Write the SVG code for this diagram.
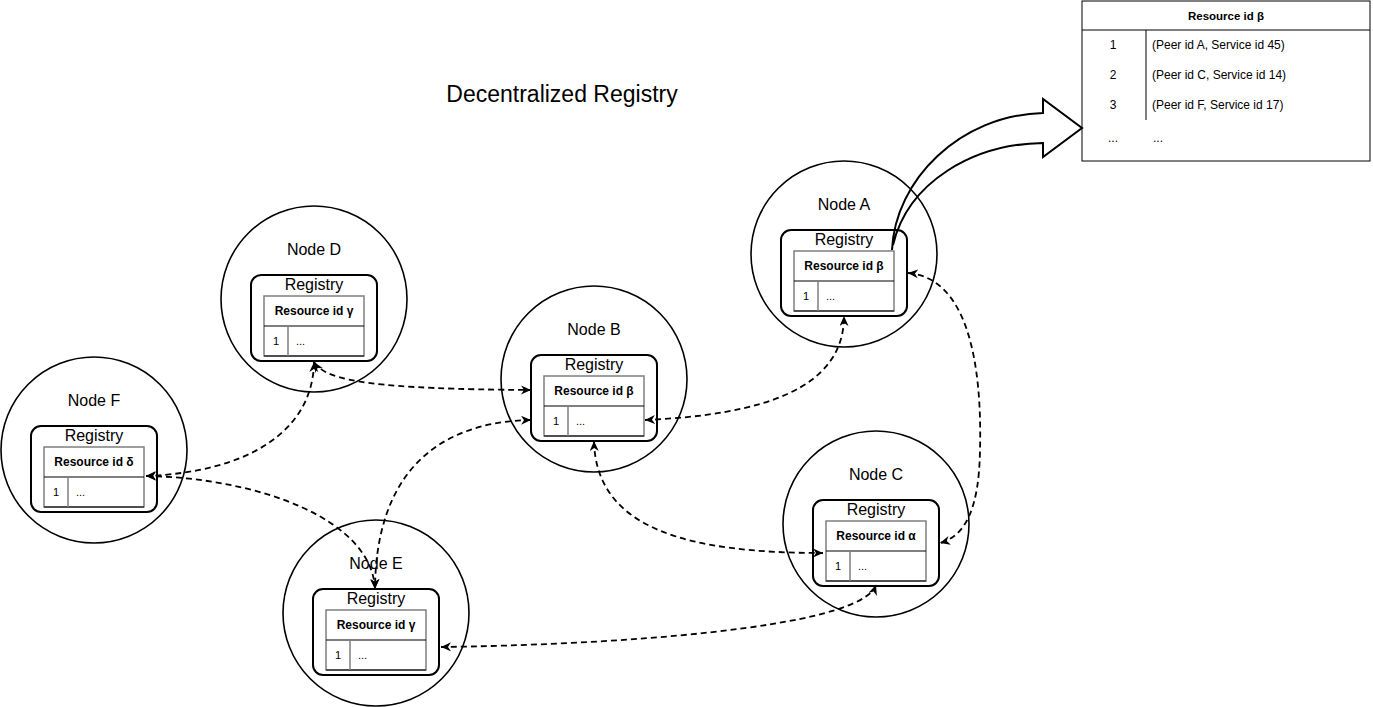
<svg xmlns="http://www.w3.org/2000/svg" width="1373" height="707" viewBox="0 0 1373 707">
<style>
  text { font-family: "Liberation Sans", Arial, Helvetica, sans-serif; fill: #000; }
  .title { font-size: 23px; text-anchor: middle; }
  .nlabel { font-size: 16px; text-anchor: middle; }
  .reg { font-size: 16px; text-anchor: middle; }
  .hdr { font-size: 12px; font-weight: bold; text-anchor: middle; }
  .cell { font-size: 11px; }
  .mid { text-anchor: middle; }
  .circ { fill: #fff; stroke: #000; stroke-width: 1.6; }
  .regbox { fill: #fff; stroke: #000; stroke-width: 2; }
  .tbl { fill: #fff; stroke: #7f7f7f; stroke-width: 1.5; }
  .sep { stroke: #000; stroke-width: 1.2; }
  .csep { stroke: #7f7f7f; stroke-width: 1.5; }
  .conn { fill: none; stroke: #000; stroke-width: 1.8; stroke-dasharray: 6 4; marker-start: url(#arr); marker-end: url(#arr); }
  .big { fill: none; stroke: #000; stroke-width: 2; stroke-linejoin: miter; }
  .rtext { font-size: 12px; }
  .rhdr { font-size: 11.5px; font-weight: bold; text-anchor: middle; }
</style>
<defs>
  <marker id="arr" markerUnits="userSpaceOnUse" markerWidth="11" markerHeight="10" refX="10" refY="4.5" orient="auto-start-reverse">
    <path d="M0,0 L10,4.5 L0,9 L3,4.5 Z" fill="#000" stroke="none"/>
  </marker>
  <g id="nodebase">
    <circle class="circ" cx="0" cy="0" r="93"/>
    <rect class="regbox" x="-63" y="-24" width="126" height="86" rx="10" ry="10"/>
    <text class="reg" x="0" y="-9">Registry</text>
    <rect class="tbl" x="-50" y="-3" width="100" height="60"/>
    <line class="sep" x1="-50" y1="27" x2="50" y2="27"/>
    <line class="sep" x1="-50" y1="57" x2="50" y2="57"/>
    <line class="csep" x1="-26" y1="27" x2="-26" y2="57"/>
    <text class="cell mid" x="-38" y="46">1</text>
    <text class="cell" x="-18" y="46">...</text>
  </g>
</defs>

<rect x="0" y="0" width="1373" height="707" fill="#fff"/>

<text class="title" x="562" y="102">Decentralized Registry</text>

<g id="node-a" transform="translate(844,254)">
  <use href="#nodebase"/>
  <text class="nlabel" x="0" y="-44">Node A</text>
  <text class="hdr" x="0" y="16">Resource id β</text>
</g>
<g id="node-b" transform="translate(594,379)">
  <use href="#nodebase"/>
  <text class="nlabel" x="0" y="-44">Node B</text>
  <text class="hdr" x="0" y="16">Resource id β</text>
</g>
<g id="node-c" transform="translate(876,524)">
  <use href="#nodebase"/>
  <text class="nlabel" x="0" y="-44">Node C</text>
  <text class="hdr" x="0" y="16">Resource id α</text>
</g>
<g id="node-d" transform="translate(314,299)">
  <use href="#nodebase"/>
  <text class="nlabel" x="0" y="-44">Node D</text>
  <text class="hdr" x="0" y="16">Resource id γ</text>
</g>
<g id="node-e" transform="translate(376,613)">
  <use href="#nodebase"/>
  <text class="nlabel" x="0" y="-44">Node E</text>
  <text class="hdr" x="0" y="16">Resource id γ</text>
</g>
<g id="node-f" transform="translate(94,450)">
  <use href="#nodebase"/>
  <text class="nlabel" x="0" y="-44">Node F</text>
  <text class="hdr" x="0" y="16">Resource id δ</text>
</g>

<g id="resource-table">
  <rect x="1082" y="1" width="288" height="160" fill="#fff" stroke="#000" stroke-width="1"/>
  <line x1="1082" y1="30" x2="1370" y2="30" stroke="#000" stroke-width="1"/>
  <line x1="1146" y1="30" x2="1146" y2="120" stroke="#000" stroke-width="1"/>
  <text class="rhdr" x="1226" y="20">Resource id β</text>
  <text class="rtext mid" x="1113" y="49">1</text>
  <text class="rtext" x="1152" y="49">(Peer id A, Service id 45)</text>
  <text class="rtext mid" x="1113" y="79">2</text>
  <text class="rtext" x="1152" y="79">(Peer id C, Service id 14)</text>
  <text class="rtext mid" x="1113" y="109">3</text>
  <text class="rtext" x="1152" y="109">(Peer id F, Service id 17)</text>
  <text class="rtext mid" x="1113" y="142">...</text>
  <text class="rtext" x="1153" y="142">...</text>
</g>

<g id="connectors">
  <path class="big" d="M892,250 C895,180 960,115 1043,113 L1043,99 L1082,128 L1043,157 L1043,143 C973,144 908,182 893,245"/>
  <path class="conn" d="M314,362 C326,382 380,389 531,390"/>
  <path class="conn" d="M314,362 C313,430 250,472 146,476"/>
  <path class="conn" d="M146,476 C260,478 372,520 375,589"/>
  <path class="conn" d="M531,420 C435,422 376,475 375,589"/>
  <path class="conn" d="M645,420 C760,415 844,390 844,316"/>
  <path class="conn" d="M594,441 C596,530 690,553 823,553"/>
  <path class="conn" d="M908,273 C970,278 982,370 980,450 C979,510 965,536 940,543"/>
  <path class="conn" d="M441,647 C600,645 860,630 876,585"/>
</g>
</svg>
